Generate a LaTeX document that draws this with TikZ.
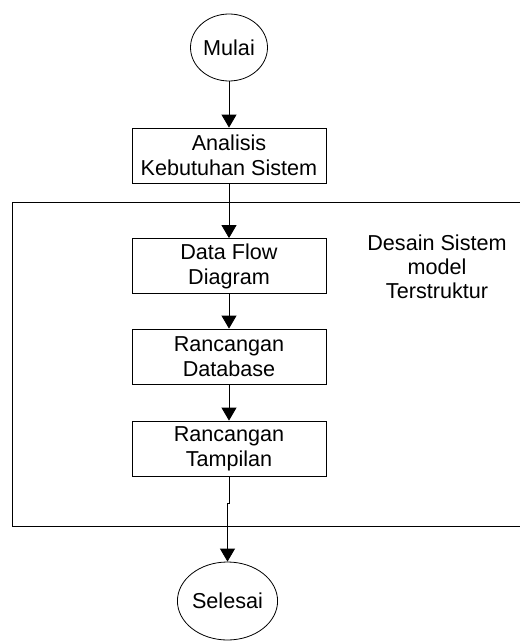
\documentclass[tikz,border=0pt]{standalone}
\usepackage{fontspec}
\setmainfont{Liberation Sans}
\usepackage{tikz}
\usetikzlibrary{positioning}
\usetikzlibrary{arrows.meta}
\usetikzlibrary{shapes.geometric}

\begin{document}
\begin{tikzpicture}[x=1pt,y=-1pt]
        \tikzstyle{terminal}=[ellipse,draw,line width=0.8pt,minimum width=77pt,
            minimum height=67pt,inner sep=0pt,font=\fontsize{21.6}{25}\selectfont]
        \tikzstyle{process}=[rectangle,draw,line width=0.8pt,minimum width=194pt,
            minimum height=55pt,align=center,inner sep=2pt,
            font=\fontsize{21.6}{25}\selectfont]
        \tikzstyle{flow}=[line width=0.8pt,-{Triangle[width=15pt,length=13pt]}]
            \useasboundingbox (0,0) rectangle (519,642);

            \node[terminal] (mulai) at (229,47.5) {Mulai};
            \node[process] (analisis) at (229,155.5) {Analisis\\Kebutuhan Sistem};

            % area desain sistem
            \draw[line width=0.8pt] (522,202) -- (12,202) -- (12,526) -- (522,526);
            \node[align=center, font=\fontsize{21.6}{24}\selectfont] (desain)
                at (437,267) {Desain Sistem\\model\\Terstruktur};

            \node[process] (dfd) at (229,266) {Data Flow\\Diagram};
            \node[process] (database) at (229,356.5) {Rancangan\\Database};
            \node[process] (tampilan) at (229,448.5) {Rancangan\\Tampilan};

            \node[terminal, minimum width=89pt, minimum height=78pt] (selesai)
                at (227.5,601) {Selesai};
            \coordinate (jog) at (229,503);

            \draw[flow] (mulai) -- (analisis);
            \draw[flow] (analisis) -- (dfd);
            \draw[flow] (dfd) -- (database);
            \draw[flow] (database) -- (tampilan);
            \draw[flow] (tampilan.south) -- (jog) -- ++(-1.5,0) -- (selesai.north);
        \end{tikzpicture}
\end{document}
